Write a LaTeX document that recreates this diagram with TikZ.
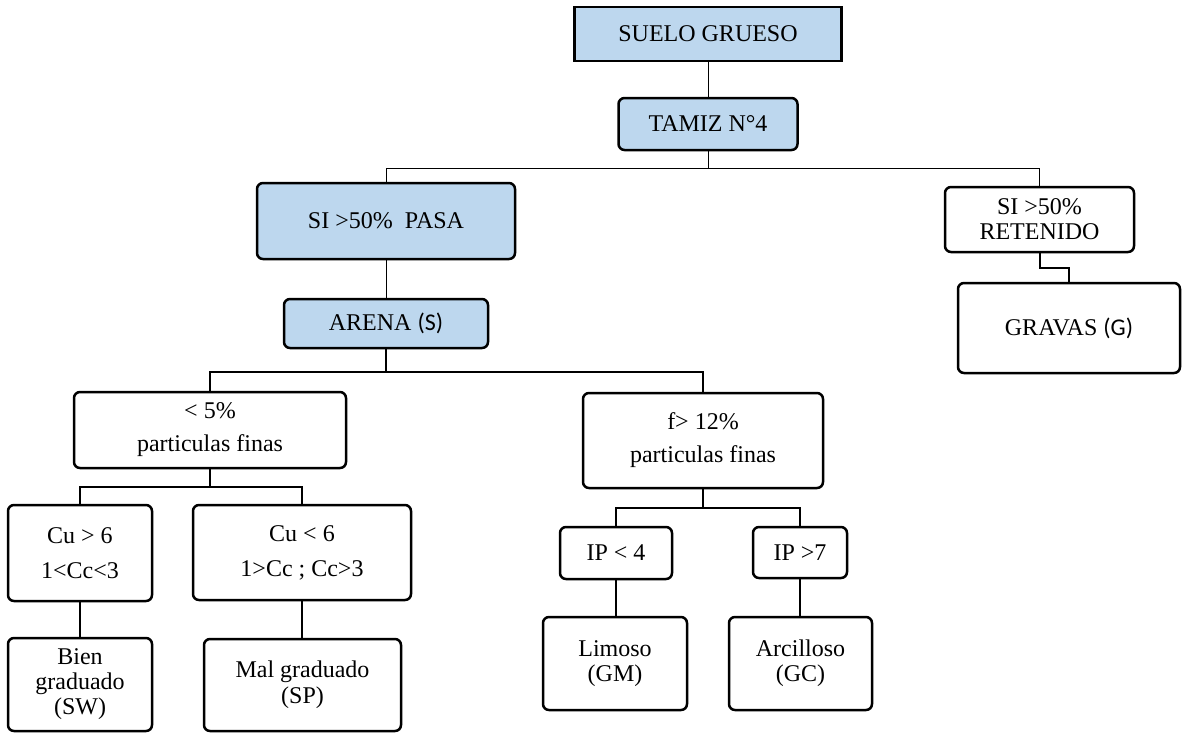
\documentclass[tikz,border=0pt]{standalone}
\usepackage{fontspec}
\setmainfont{Liberation Serif}
\newfontfamily\sansfam{Carlito}
\definecolor{boxblue}{RGB}{189,215,238}
\begin{document}
\begin{tikzpicture}[x=1pt,y=-1pt,
  every node/.style={font=\fontsize{24}{33}\selectfont, align=center, inner sep=0pt},
  box/.style={draw=black, line width=2.5pt, rounded corners=6pt, fill=white},
  bluebox/.style={box, fill=boxblue},
  thin line/.style={line width=1pt},
  thick line/.style={line width=2pt}]
\useasboundingbox (0,0) rectangle (1182,732);
% boxes
\node[bluebox, rounded corners=0pt, minimum width=267pt, minimum height=54pt] (suelo) at (708,34) {SUELO GRUESO};
\node[bluebox, minimum width=179pt, minimum height=52pt] (tamiz) at (708,124) {TAMIZ N°4};
\node[bluebox, minimum width=258pt, minimum height=76pt] (pasa) at (386,221) {SI >50\%\ \ PASA};
\node[box, minimum width=189pt, minimum height=65pt, font=\fontsize{24}{25}\selectfont] (ret) at (1039.5,219.5) {SI >50\%\\RETENIDO};
\node[box, minimum width=222pt, minimum height=90pt] (gravas) at (1069,328) {GRAVAS {\sansfam (G)}};
\node[bluebox, minimum width=204pt, minimum height=49pt] (arena) at (386,323.5) {ARENA {\sansfam (S)}};
\node[box, minimum width=272pt, minimum height=76pt] (fine5) at (210,430) {< 5\%\\particulas finas};
\node[box, minimum width=240pt, minimum height=95pt] (fine12) at (703,440.5) {f> 12\%\\particulas finas};
\node[box, minimum width=144pt, minimum height=96pt, font=\fontsize{24}{35}\selectfont] (cua) at (80,553) {Cu > 6\\1<Cc<3};
\node[box, minimum width=218pt, minimum height=95pt, font=\fontsize{24}{35}\selectfont] (cub) at (302,552.5) {Cu < 6\\1>Cc ; Cc>3};
\node[box, minimum width=112pt, minimum height=52pt] (ipa) at (616,553) {IP < 4};
\node[box, minimum width=94pt, minimum height=51pt] (ipb) at (800,552.5) {IP >7};
\node[box, minimum width=144pt, minimum height=93pt, font=\fontsize{24}{25}\selectfont] (bien) at (80,684.5) {Bien\\graduado\\(SW)};
\node[box, minimum width=197pt, minimum height=92pt, font=\fontsize{24}{26}\selectfont] (mal) at (302.5,685) {Mal graduado\\(SP)};
\node[box, minimum width=144pt, minimum height=93pt, font=\fontsize{24}{25}\selectfont] (limo) at (615,663.5) {Limoso\\(GM)};
\node[box, minimum width=143pt, minimum height=93pt, font=\fontsize{24}{25}\selectfont] (arci) at (800.5,663.5) {Arcilloso\\(GC)};
% connectors
\draw[thin line] (suelo.south) -- (tamiz.north);
\draw[thin line] (tamiz.south) -- ++(0,17) -| (pasa.north);
\draw[thin line] (tamiz.south) -- ++(0,17) -| (ret.north);
\draw[thin line] (pasa.south) -- (arena.north);
\draw[thick line] (ret.south) -- ++(0,15) -| (gravas.north);
\draw[thick line] (arena.south) -- ++(0,23) -| (fine5.north);
\draw[thick line] (arena.south) -- ++(0,23) -| (fine12.north);
\draw[thick line] (fine5.south) -- ++(0,18) -| (cua.north);
\draw[thick line] (fine5.south) -- ++(0,18) -| (cub.north);
\draw[thick line] (fine12.south) -- ++(0,19) -| (ipa.north);
\draw[thick line] (fine12.south) -- ++(0,19) -| (ipb.north);
\draw[thick line] (cua.south) -- (cua.south |- bien.north);
\draw[thick line] (cub.south) -- (cub.south |- mal.north);
\draw[thick line] (ipa.south) -- (ipa.south |- limo.north);
\draw[thick line] (ipb.south) -- (ipb.south |- arci.north);
\end{tikzpicture}
\end{document}
